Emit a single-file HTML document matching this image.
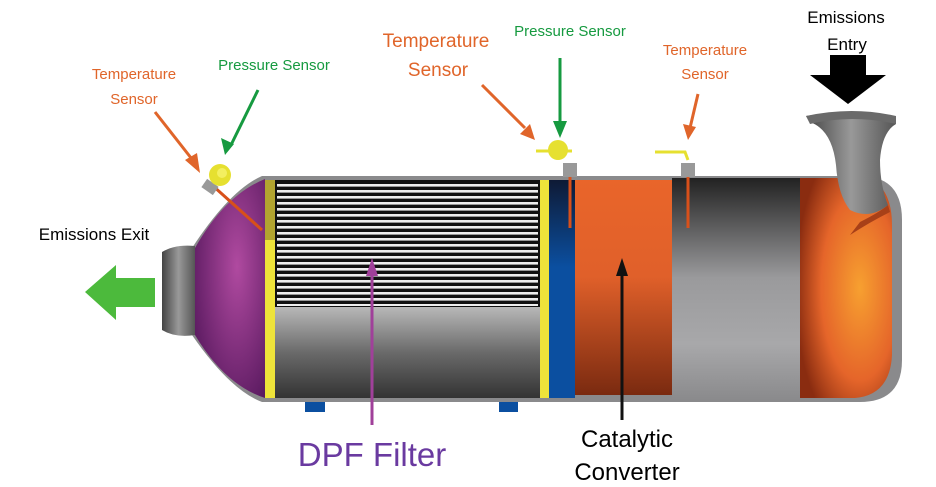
<!DOCTYPE html>
<html><head><meta charset="utf-8"><style>
html,body{margin:0;padding:0;background:#fff;width:936px;height:487px;overflow:hidden}
svg{display:block}
text{font-family:"Liberation Sans",sans-serif}
</style></head><body>
<svg width="936" height="487" viewBox="0 0 936 487" xmlns="http://www.w3.org/2000/svg">
<defs>
<linearGradient id="gray" x1="0" y1="0" x2="0" y2="1">
<stop offset="0" stop-color="#222"/><stop offset="0.45" stop-color="#9a9a9c"/><stop offset="0.75" stop-color="#a8a8aa"/><stop offset="1" stop-color="#8a8a8c"/></linearGradient>
<linearGradient id="fgray" x1="0" y1="0" x2="0" y2="1">
<stop offset="0" stop-color="#b8b8b8"/><stop offset="0.5" stop-color="#6a6a6a"/><stop offset="1" stop-color="#333"/></linearGradient>
<linearGradient id="cat" x1="0" y1="0" x2="0" y2="1">
<stop offset="0" stop-color="#e9652a"/><stop offset="0.45" stop-color="#e0602a"/><stop offset="1" stop-color="#7a2a10"/></linearGradient>
<linearGradient id="blue" x1="0" y1="0" x2="0" y2="1">
<stop offset="0" stop-color="#0e1a35"/><stop offset="0.4" stop-color="#0b4fa0"/><stop offset="1" stop-color="#0b4fa0"/></linearGradient>
<radialGradient id="endo" cx="0.65" cy="0.5" r="0.7">
<stop offset="0" stop-color="#f7a030"/><stop offset="0.6" stop-color="#e5652a"/><stop offset="1" stop-color="#8a2c10"/></radialGradient>
<radialGradient id="purp" cx="0.6" cy="0.4" r="0.7">
<stop offset="0" stop-color="#b04aa0"/><stop offset="1" stop-color="#5a1a60"/></radialGradient>
<linearGradient id="pipe" x1="0" y1="0" x2="1" y2="0">
<stop offset="0" stop-color="#444"/><stop offset="0.5" stop-color="#999"/><stop offset="1" stop-color="#555"/></linearGradient>
<linearGradient id="pipev" x1="0" y1="0" x2="0" y2="1">
<stop offset="0" stop-color="#888"/><stop offset="0.4" stop-color="#555"/><stop offset="1" stop-color="#777"/></linearGradient>
<pattern id="lines" x="0" y="184" width="10" height="12" patternUnits="userSpaceOnUse">
<rect width="10" height="12" fill="#111"/><rect y="0" width="10" height="2.6" fill="#eee"/><rect y="6" width="10" height="2.6" fill="#eee"/></pattern>
</defs>

<!-- outer shell -->
<path d="M262,176 L860,176 Q902,176 902,220 L902,360 Q902,402 860,402 L262,402 Q230,390 192,335 L192,248 Q230,190 262,176 Z" fill="#8a8a8c"/>
<!-- neck -->
<path d="M162,252 Q175,244 195,246 L195,335 Q175,338 162,330 Z" fill="url(#pipe)"/>
<!-- purple cone -->
<path d="M265,179 L265,398 Q225,385 195,335 L195,248 Q225,195 265,179 Z" fill="url(#purp)"/>
<!-- yellow bands -->
<rect x="265" y="180" width="10" height="218" fill="#eee33a"/>
<rect x="265" y="180" width="10" height="60" fill="#8b7a2a" opacity="0.6"/>
<!-- filter -->
<rect x="275" y="180" width="265" height="127" fill="#111"/>
<rect x="277" y="184" width="261" height="122" fill="url(#lines)"/>
<rect x="275" y="307" width="265" height="91" fill="url(#fgray)"/>
<rect x="540" y="180" width="9" height="218" fill="#eee33a"/>
<rect x="549" y="180" width="26" height="218" fill="url(#blue)"/>
<rect x="575" y="180" width="97" height="215" fill="url(#cat)"/>
<rect x="672" y="178" width="128" height="222" fill="url(#gray)"/>
<!-- right end orange -->
<path d="M800,178 L870,178 Q892,190 892,225 L892,355 Q890,395 855,398 L800,398 Z" fill="url(#endo)"/>
<path d="M860,222 Q880,212 888,205 L890,212 Q870,222 850,235 Z" fill="#a84018"/>
<!-- inlet pipe -->
<path d="M810,122 Q832,130 836,165 Q838,195 850,210 Q870,220 888,205 Q880,185 880,160 Q882,132 896,124 L896,118 Q852,108 806,116 Z" fill="url(#pipe)"/>
<path d="M806,116 Q852,106 896,116 L896,124 Q852,114 810,124 Z" fill="#6a6a6a"/>
<!-- blue tabs -->
<rect x="305" y="402" width="20" height="10" fill="#0b4fa0"/>
<rect x="499" y="402" width="19" height="10" fill="#0b4fa0"/>

<!-- left sensor -->
<line x1="212" y1="185" x2="262" y2="230" stroke="#d8501a" stroke-width="3"/>
<rect x="203" y="182" width="14" height="10" fill="#999" transform="rotate(35 210 187)"/>
<circle cx="220" cy="175" r="11" fill="#e6e030"/>
<circle cx="222" cy="173" r="5" fill="#f3ef60"/>
<!-- middle sensor -->
<line x1="570" y1="165" x2="570" y2="228" stroke="#d8501a" stroke-width="3"/>
<circle cx="558" cy="150" r="10" fill="#e6e030"/>
<line x1="536" y1="151" x2="572" y2="151" stroke="#e6e030" stroke-width="3"/>
<rect x="563" y="163" width="14" height="14" fill="#999"/>
<!-- right sensor -->
<line x1="688" y1="165" x2="688" y2="228" stroke="#d8501a" stroke-width="3"/>
<path d="M655,152 L685,152 L688,160" stroke="#e6e030" stroke-width="3" fill="none"/>
<rect x="681" y="163" width="14" height="14" fill="#999"/>

<!-- arrows -->
<g stroke-width="3" fill="none">
<line x1="155" y1="112" x2="195" y2="163" stroke="#e0652a"/>
<line x1="258" y1="90" x2="231" y2="145" stroke="#169a40"/>
<line x1="482" y1="85" x2="525" y2="128" stroke="#e0652a"/>
<line x1="560" y1="58" x2="560" y2="125" stroke="#169a40"/>
<line x1="698" y1="94" x2="690" y2="128" stroke="#e0652a"/>
<line x1="372" y1="425" x2="372" y2="272" stroke="#a0409a"/>
<line x1="622" y1="420" x2="622" y2="272" stroke="#111"/>
</g>
<polygon points="200,173 185,160 197,153" fill="#e0652a"/>
<polygon points="225,155 221,138 234,144" fill="#169a40"/>
<polygon points="535,140 520,134 530,124" fill="#e0652a"/>
<polygon points="560,138 553,121 567,121" fill="#169a40"/>
<polygon points="688,140 683,124 696,127" fill="#e0652a"/>
<polygon points="372,258 366,276 378,276" fill="#a0409a"/>
<polygon points="622,258 616,276 628,276" fill="#111"/>
<!-- emissions entry arrow -->
<polygon points="830,55 866,55 866,75 886,75 848,104 810,75 830,75" fill="#000"/>
<!-- exit arrow -->
<polygon points="155,278 116,278 116,265 85,292 116,320 116,307 155,307" fill="#4cba3c"/>

<!-- labels -->
<g font-size="15" fill="#e0652a" text-anchor="middle">
<text x="134" y="79">Temperature</text><text x="134" y="104">Sensor</text>
<text x="705" y="55">Temperature</text><text x="705" y="79">Sensor</text>
</g>
<g font-size="19" fill="#e0652a" text-anchor="middle">
<text x="436" y="47">Temperature</text><text x="438" y="76">Sensor</text>
</g>
<g font-size="15" fill="#169a40" text-anchor="middle">
<text x="274" y="70">Pressure Sensor</text>
<text x="570" y="36">Pressure Sensor</text>
</g>
<g font-size="17" fill="#000" text-anchor="middle">
<text x="846" y="23">Emissions</text><text x="847" y="50">Entry</text>
<text x="94" y="240">Emissions Exit</text>
</g>
<text x="372" y="466" font-size="33" fill="#6a3aa0" text-anchor="middle">DPF Filter</text>
<g font-size="24" fill="#000" text-anchor="middle">
<text x="627" y="447">Catalytic</text><text x="627" y="480">Converter</text>
</g>
</svg>
</body></html>
